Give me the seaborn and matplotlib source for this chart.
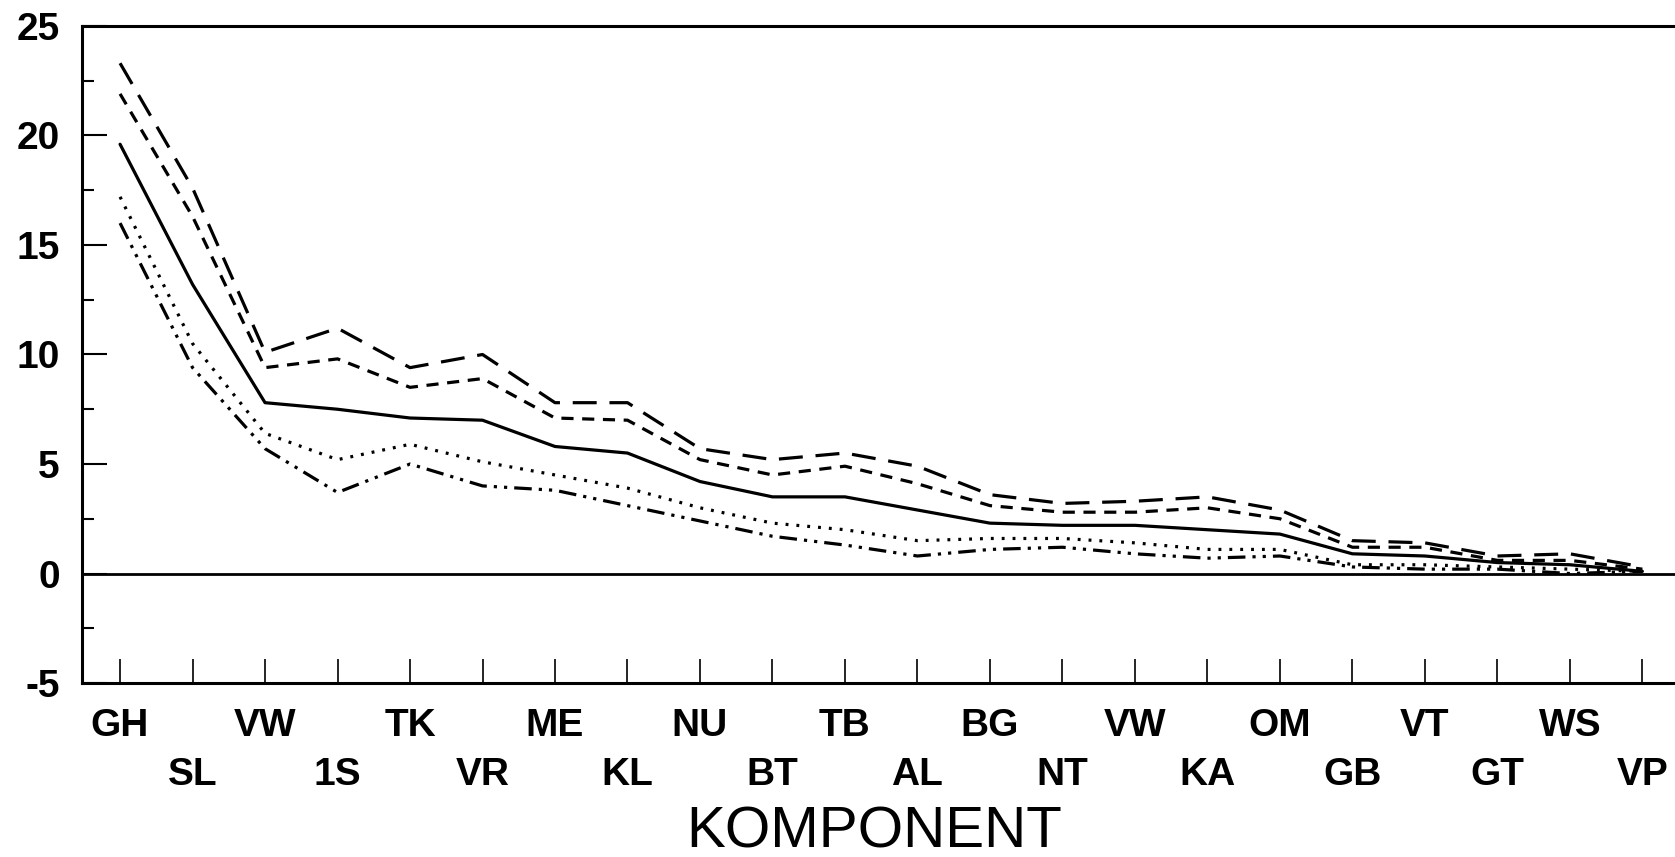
import matplotlib
matplotlib.use('Agg')
import matplotlib.pyplot as plt
import pandas as pd
import seaborn as sns

# categories along the x axis
komponent = ['GH', 'SL', 'VW', '1S', 'TK', 'VR', 'ME', 'KL', 'NU', 'BT', 'TB',
             'AL', 'BG', 'NT', 'VW', 'KA', 'OM', 'GB', 'VT', 'GT', 'WS', 'VP']

# series values (top to bottom)
long_dash = [23.3, 17.6, 10.1, 11.2, 9.4, 10.0, 7.8, 7.8, 5.7, 5.2, 5.5,
             4.9, 3.6, 3.2, 3.3, 3.5, 2.9, 1.5, 1.4, 0.8, 0.9, 0.3]
short_dash = [21.9, 16.3, 9.4, 9.8, 8.5, 8.9, 7.1, 7.0, 5.2, 4.5, 4.9,
              4.1, 3.1, 2.8, 2.8, 3.0, 2.5, 1.2, 1.2, 0.6, 0.6, 0.2]
solid = [19.6, 13.2, 7.8, 7.5, 7.1, 7.0, 5.8, 5.5, 4.2, 3.5, 3.5,
         2.9, 2.3, 2.2, 2.2, 2.0, 1.8, 0.9, 0.8, 0.5, 0.4, 0.1]
dotted = [17.2, 10.5, 6.4, 5.2, 5.9, 5.1, 4.5, 3.9, 3.0, 2.3, 2.0,
          1.5, 1.6, 1.6, 1.4, 1.1, 1.1, 0.4, 0.4, 0.3, 0.2, 0.1]
dash_dot = [16.0, 9.4, 5.7, 3.7, 5.0, 4.0, 3.8, 3.1, 2.4, 1.7, 1.3,
            0.8, 1.1, 1.2, 0.9, 0.7, 0.8, 0.3, 0.2, 0.2, 0.0, 0.1]

y_ticks = [-5, 0, 5, 10, 15, 20, 25]

sns.set_style('ticks')
plt.rcParams['font.family'] = ['Liberation Sans', 'DejaVu Sans']
plt.rcParams['text.color'] = 'black'
plt.rcParams['xtick.color'] = 'black'
plt.rcParams['ytick.color'] = 'black'
plt.rcParams['axes.edgecolor'] = 'black'

series = {'a': long_dash, 'b': short_dash, 'c': solid, 'd': dotted, 'e': dash_dot}
rows = []
for name, vals in series.items():
    for i, v in enumerate(vals):
        rows.append({'pos': i, 'value': v, 'series': name})
df = pd.DataFrame(rows)

dashes = {'a': (7.5, 4), 'b': (3.8, 2.7), 'c': '', 'd': (0.9, 2.5), 'e': (5.5, 2.2, 1, 2.2, 1, 2.2)}

fig = plt.figure(figsize=(16.75, 8.57), dpi=100)
ax = fig.add_axes([0.049, 0.203, 0.951, 0.7667])

sns.lineplot(data=df, x='pos', y='value', style='series', dashes=dashes,
             color='black', linewidth=2.3, legend=False, ax=ax)
ax.axhline(0, color='black', linewidth=2.0)

ax.set_xlim(-0.524, 21.45)
ax.set_ylim(-5, 25)
ax.set_yticks(y_ticks)
ax.set_yticks([-2.5, 2.5, 7.5, 12.5, 17.5, 22.5], minor=True)
ax.set_yticklabels([str(t) for t in y_ticks], fontsize=28, fontweight='bold')

even = list(range(0, len(komponent), 2))
odd = list(range(1, len(komponent), 2))
ax.set_xticks(even)
ax.set_xticklabels([komponent[i] for i in even], fontsize=28, fontweight='bold')
ax.set_xticks(odd, minor=True)
ax.set_xticklabels([komponent[i] for i in odd], minor=True, fontsize=28, fontweight='bold')

ax.tick_params(axis='y', which='major', direction='in', length=18, width=1.5, pad=16)
ax.tick_params(axis='y', which='minor', direction='in', length=8.5, width=1.5)
ax.tick_params(axis='x', which='both', direction='in', length=17, width=1.2)
ax.tick_params(axis='x', which='major', pad=18)
ax.tick_params(axis='x', which='minor', pad=53)

ax.spines['right'].set_visible(False)
for s in ['left', 'top', 'bottom']:
    ax.spines[s].set_linewidth(2.2)

ax.set_xlabel('')
ax.set_ylabel('')
fig.text(0.522, 1 - 832 / 857, 'KOMPONENT', ha='center', va='center', fontsize=42)

fig.savefig('out.png', dpi=100)
